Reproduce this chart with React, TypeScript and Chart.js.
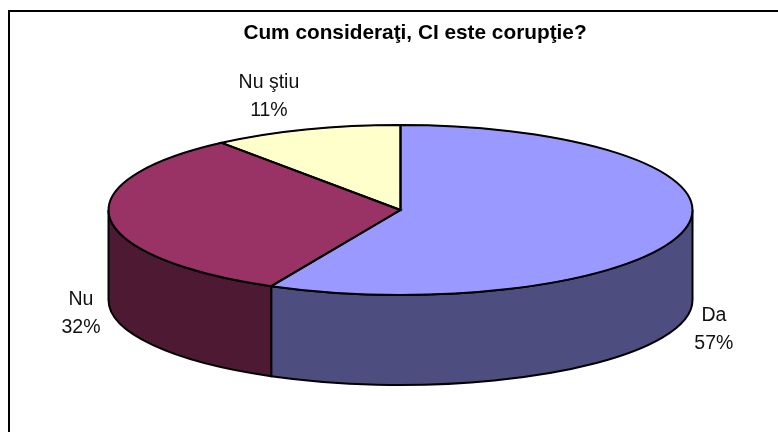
import React, { useEffect, useRef } from "react";
import { Chart, registerables } from "chart.js";

Chart.register(...registerables);

const TITLE = "Cum consideraţi, CI este corupţie?";
const categories = ["Da", "Nu", "Nu ştiu"];
const percentages = [57.3, 32.2, 10.5];
const topColors = ["#9999FF", "#993366", "#FFFFCC"];
const sideColors = ["#4D4D80", "#4D1933", "#808066"];

const FONT = '"Liberation Sans", Arial, sans-serif';
const CX = 400.5;
const CY = 210;
const RX = 292;
const RY = 85;
const DEPTH = 90;
const LINE = 2;
const labelOffsets = [
  [29, 10],
  [-29, 5],
  [-37, -33],
];

const pie3d = {
  id: "pie3d",
  beforeDraw(chart: any) {
    const ctx = chart.ctx;
    ctx.save();
    ctx.fillStyle = "#fff";
    ctx.fillRect(0, 0, chart.width, chart.height);
    // frame: top and left rules only
    ctx.strokeStyle = "#000";
    ctx.lineWidth = 2;
    ctx.beginPath();
    ctx.moveTo(9, chart.height);
    ctx.lineTo(9, 11);
    ctx.lineTo(chart.width, 11);
    ctx.stroke();
    ctx.restore();
  },
  beforeDatasetsDraw(chart: any) {
    const ctx = chart.ctx;
    const arcs = chart.getDatasetMeta(0).data;
    ctx.save();
    ctx.strokeStyle = "#000";
    ctx.lineWidth = LINE;
    // side walls of the slices, on the visible (front) half only
    arcs.forEach((arc: any, i: number) => {
      const a0 = Math.max(arc.startAngle, 0);
      const a1 = Math.min(arc.endAngle, Math.PI);
      if (a1 <= a0) return;
      ctx.beginPath();
      ctx.ellipse(CX, CY, RX, RY, 0, a0, a1);
      ctx.lineTo(CX + RX * Math.cos(a1), CY + RY * Math.sin(a1) + DEPTH);
      ctx.ellipse(CX, CY + DEPTH, RX, RY, 0, a1, a0, true);
      ctx.closePath();
      ctx.fillStyle = sideColors[i];
      ctx.fill();
      ctx.stroke();
    });
    ctx.restore();

    // flatten the library's round pie into the tilted top face
    ctx.save();
    ctx.translate(CX, CY);
    ctx.scale(1, RY / RX);
    ctx.translate(-arcs[0].x, -arcs[0].y);
  },
  afterDatasetsDraw(chart: any) {
    const ctx = chart.ctx;
    ctx.restore();
    const arcs = chart.getDatasetMeta(0).data;
    ctx.save();
    ctx.strokeStyle = "#000";
    ctx.lineWidth = LINE;
    // the library's stroke is thinned by the flattening: redraw it at full weight
    arcs.forEach((arc: any) => {
      ctx.beginPath();
      ctx.moveTo(CX, CY);
      ctx.ellipse(CX, CY, RX, RY, 0, arc.startAngle, arc.endAngle);
      ctx.closePath();
      ctx.stroke();
    });
    ctx.fillStyle = "#111";
    ctx.font = `19.5px ${FONT}`;
    ctx.textAlign = "center";
    ctx.textBaseline = "middle";
    arcs.forEach((arc: any, i: number) => {
      const mid = (arc.startAngle + arc.endAngle) / 2;
      const s = Math.sin(mid);
      const x = CX + RX * Math.cos(mid) + labelOffsets[i][0];
      const y = CY + RY * s + (s > -0.2 ? DEPTH : 0) + labelOffsets[i][1];
      ctx.fillText(categories[i], x, y - 14);
      ctx.fillText(`${Math.round(percentages[i])}%`, x, y + 14);
    });
    ctx.restore();
  },
};

export default function App() {
  const ref = useRef<HTMLCanvasElement>(null);
  useEffect(() => {
    document.body.style.margin = "0";
    const chart = new Chart(ref.current!, {
      type: "pie",
      data: {
        labels: categories,
        datasets: [
          {
            data: percentages,
            backgroundColor: topColors,
            borderColor: "#000",
            borderWidth: 1,
            radius: RX,
          } as any,
        ],
      },
      options: {
        responsive: false,
        animation: false,
        layout: { padding: { left: 52 } },
        plugins: {
          legend: { display: false },
          tooltip: { enabled: false },
          title: {
            display: true,
            text: TITLE,
            color: "#000",
            font: { family: FONT, size: 20.8, weight: "bold" },
            padding: { top: 21, bottom: 0 },
          },
        },
      },
      plugins: [pie3d],
    });
    return () => chart.destroy();
  }, []);
  return <canvas ref={ref} width={778} height={432} style={{ display: "block" }} />;
}
